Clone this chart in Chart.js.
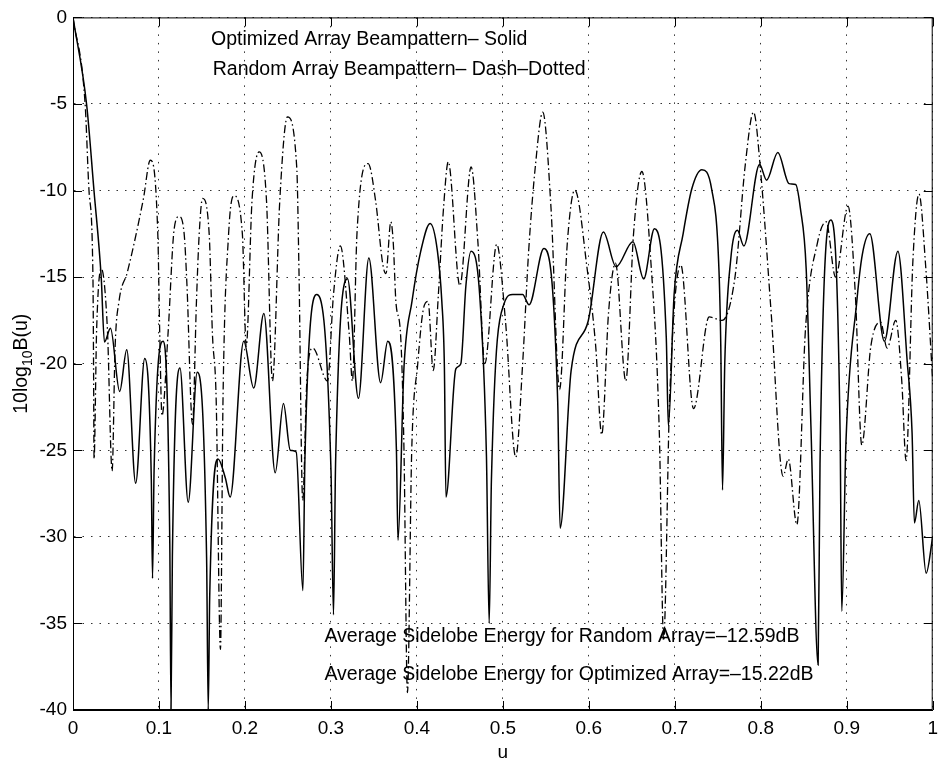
<!DOCTYPE html>
<html>
<head>
<meta charset="utf-8">
<script src="https://cdn.jsdelivr.net/npm/chart.js@4.4.0/dist/chart.umd.min.js"></script>
<style>
html,body{margin:0;padding:0;background:#fff;}
canvas{display:block;}
</style>
</head>
<body>
<canvas id="c" width="945" height="762"></canvas>
<script>
// ---- data ----
const xTickValues = [0,0.1,0.2,0.3,0.4,0.5,0.6,0.7,0.8,0.9,1];
const yTickValues = [0,-5,-10,-15,-20,-25,-30,-35,-40];

// Optimized array beampattern (solid)
const optU = [0,0.0159,0.0244,0.0328,0.0366,0.0436,0.0543,0.0625,0.0729,0.0834,
  0.0911,0.0925,0.0943,0.1047,0.1126,0.114,0.1156,0.1244,0.134,0.1445,
  0.1554,0.1573,0.159,0.1687,0.1772,0.1828,0.1986,0.2102,0.222,0.2352,
  0.2448,0.2527,0.2596,0.2674,0.2698,0.2835,0.3001,0.303,0.3054,0.3193,
  0.332,0.3441,0.3578,0.3661,0.3762,0.378,0.385,0.3943,0.4045,0.4154,
  0.4239,0.429,0.432,0.4338,0.4453,0.4511,0.457,0.463,0.473,0.4809,
  0.4841,0.4867,0.5017,0.5115,0.523,0.5305,0.5477,0.5638,0.5666,0.5794,
  0.5992,0.6169,0.6317,0.6513,0.6638,0.6763,0.6901,0.6925,0.6992,0.7095,
  0.7198,0.7315,0.7428,0.7513,0.7535,0.7555,0.7581,0.765,0.7728,0.7803,
  0.7986,0.8068,0.8198,0.8329,0.8406,0.846,0.8528,0.8584,0.8667,0.8689,
  0.8815,0.8923,0.8942,0.8991,0.9117,0.9181,0.9268,0.9438,0.9595,0.9703,
  0.976,0.9787,0.9838,0.9924,1.0];
const optDb = [0,-5.06,-10,-15,-18.75,-17.95,-21.6,-19.2,-26.9,-19.7,
  -26.7,-32.4,-26.2,-18.7,-30.4,-40,-31.1,-20.25,-28,-20.5,
  -31.2,-40,-33.5,-25.5,-26.6,-27.7,-18.7,-21.4,-17.1,-26.3,
  -22.3,-25,-25.1,-33.1,-25.4,-16,-26.2,-34.5,-25.8,-15.1,
  -22,-13.9,-21.1,-18.7,-25,-30.2,-20.2,-16.4,-13.5,-11.9,
  -13.5,-16.4,-20.2,-27.7,-20.3,-20,-15.5,-13.5,-16,-25.3,
  -35,-26.7,-16.5,-16,-16,-16.6,-13.35,-22.2,-29.5,-20.4,
  -17.55,-12.4,-14.4,-12.95,-15.1,-12.2,-18.5,-23.6,-16,-12.55,
  -9.9,-8.8,-9.9,-14.5,-19,-27.3,-20,-14,-12.3,-13.2,
  -8.5,-9.4,-7.8,-9.6,-9.65,-11,-14.5,-23.7,-37.4,-25.8,
  -11.7,-24.1,-34.3,-24.5,-16.4,-13.7,-12.5,-18.7,-13.5,-19.85,
  -24,-29.2,-27.9,-32.1,-30];

// Random array beampattern (dash-dotted)
const randU = [0,0.0141,0.0186,0.0232,0.0239,0.0245,0.0275,0.0329,0.040,0.0455,
  0.049,0.0535,0.0633,0.0818,0.0899,0.0987,0.1009,0.1035,0.1105,0.1177,
  0.1234,0.1293,0.1325,0.139,0.1436,0.1468,0.1507,0.1584,0.1622,0.1665,
  0.1715,0.1745,0.181,0.187,0.197,0.2015,0.2082,0.2164,0.2251,0.232,
  0.2405,0.2494,0.2603,0.2628,0.2672,0.272,0.279,0.296,0.303,0.311,
  0.3213,0.325,0.3303,0.3433,0.352,0.3605,0.364,0.3697,0.3725,0.3757,
  0.381,0.385,0.389,0.394,0.401,0.407,0.413,0.419,0.425,0.431,
  0.4365,0.45,0.4631,0.471,0.479,0.4929,0.503,0.515,0.523,0.530,
  0.538,0.5464,0.556,0.566,0.575,0.5837,0.598,0.608,0.615,0.623,
  0.631,0.643,0.652,0.6617,0.672,0.682,0.687,0.694,0.707,0.7218,
  0.74,0.755,0.77,0.782,0.7916,0.80,0.812,0.826,0.832,0.842,
  0.852,0.866,0.876,0.887,0.9015,0.91,0.9175,0.928,0.9393,0.947,
  0.957,0.964,0.969,0.977,0.984,0.992,1.0];
const randDb = [0,-5,-10,-15,-20,-25.5,-18,-14.5,-18,-26.2,
  -19,-16.4,-14.7,-10.5,-8.25,-12.6,-18.3,-23,-18.3,-12.2,
  -11.5,-12.5,-15.4,-23.5,-16.4,-12.5,-10.45,-12.5,-18.3,-22,
  -36.5,-22,-12.5,-10.3,-12.5,-19,-10.6,-7.77,-10.6,-21,
  -10.6,-5.75,-8.7,-14.5,-27.9,-21,-19.1,-21,-16,-13.2,
  -18.3,-21,-12.5,-8.44,-10.6,-14.3,-14.8,-11.8,-13,-16.5,
  -18.3,-25,-39,-25,-20,-17,-16.4,-20.4,-16,-11,
  -8.34,-15.5,-8.63,-13,-20,-13.1,-17.5,-25.4,-20,-13.5,
  -8.5,-5.47,-11,-21.5,-13,-9.97,-14.5,-19,-24.1,-17,
  -14.2,-21,-12.5,-8.9,-14,-24,-36,-22,-14.3,-22.6,
  -17.3,-17.5,-15,-8.5,-5.47,-9,-17,-26.5,-25.5,-29.3,
  -18,-13,-11.8,-15,-10.9,-16,-24.7,-19,-17.6,-19.1,
  -17.5,-21,-25.6,-14,-10.2,-14.5,-21];

const seriesNames = ['Optimized Array', 'Random Array'];
const noteTexts = [
  'Optimized Array Beampattern\u2013 Solid',
  'Random Array Beampattern\u2013 Dash\u2013Dotted',
  'Average Sidelobe Energy for Random Array=\u201312.59dB',
  'Average Sidelobe Energy for Optimized Array=\u201315.22dB'
];
const xTitle = 'u';

// ---- chart ----
const FONT = '"Liberation Sans", Arial, Helvetica, sans-serif';
Chart.defaults.font.family = FONT;
Chart.defaults.color = '#000';

const toPts = (us, ds) => us.map((u, i) => ({x: u, y: ds[i]}));

// annotation anchors (data coordinates of text start / baseline)
const noteAnchors = [
  {u: 0.1605, db: -1.62},
  {u: 0.1625, db: -3.35},
  {u: 0.2925, db: -36.1},
  {u: 0.2925, db: -38.28}
];

const framePlugin = {
  id: 'frame',
  afterDraw(chart) {
    const {ctx, chartArea: a, scales: {x, y}} = chart;
    ctx.save();
    ctx.setLineDash([]);
    ctx.strokeStyle = '#000';
    ctx.lineWidth = 1;
    ctx.strokeRect(a.left + 0.5, a.top + 0.5, a.right - a.left - 1, a.bottom - a.top - 1);
    const tl = 9;
    ctx.beginPath();
    x.ticks.forEach(t => {
      const px = Math.round(x.getPixelForValue(t.value)) + 0.5;
      ctx.moveTo(px, a.bottom); ctx.lineTo(px, a.bottom - tl);
      ctx.moveTo(px, a.top); ctx.lineTo(px, a.top + tl);
    });
    y.ticks.forEach(t => {
      const py = Math.round(y.getPixelForValue(t.value)) + 0.5;
      ctx.moveTo(a.left, py); ctx.lineTo(a.left + tl, py);
      ctx.moveTo(a.right, py); ctx.lineTo(a.right - tl, py);
    });
    ctx.stroke();

    // text notes
    ctx.fillStyle = '#000';
    ctx.font = '19.5px ' + FONT;
    ctx.textAlign = 'left';
    ctx.textBaseline = 'alphabetic';
    noteTexts.forEach((t, i) => {
      const n = noteAnchors[i];
      ctx.fillText(t, x.getPixelForValue(n.u), y.getPixelForValue(n.db));
    });

    // y-axis label with subscript
    ctx.translate(27, (a.top + a.bottom) / 2);
    ctx.rotate(-Math.PI / 2);
    const big = '19.5px ' + FONT, small = '14px ' + FONT;
    ctx.font = big;
    const w1 = ctx.measureText('10log').width;
    const w3 = ctx.measureText('B(u)').width;
    ctx.font = small;
    const w2 = ctx.measureText('10').width;
    let sx = -(w1 + w2 + w3) / 2;
    ctx.font = big; ctx.fillText('10log', sx, 0); sx += w1;
    ctx.font = small; ctx.fillText('10', sx, 5); sx += w2;
    ctx.font = big; ctx.fillText('B(u)', sx, 0);
    ctx.restore();
  }
};

const gridOpts = {color: '#333', lineWidth: 1, drawTicks: false};
const borderOpts = {display: true, color: '#000', width: 1, dash: [1.5, 7]};

new Chart(document.getElementById('c'), {
  type: 'line',
  data: {
    datasets: [
      {
        label: seriesNames[0],
        data: toPts(optU, optDb),
        borderColor: '#000',
        borderWidth: 1.5,
        pointRadius: 0,
        fill: false,
        cubicInterpolationMode: 'monotone'
      },
      {
        label: seriesNames[1],
        data: toPts(randU, randDb),
        borderColor: '#000',
        borderWidth: 1.3,
        borderDash: [8, 3, 1.5, 3],
        pointRadius: 0,
        fill: false,
        cubicInterpolationMode: 'monotone'
      }
    ]
  },
  options: {
    responsive: false,
    animation: false,
    devicePixelRatio: 1,
    layout: {padding: {top: 15, right: 2, left: 0, bottom: 0}},
    plugins: {legend: {display: false}, tooltip: {enabled: false}},
    scales: {
      x: {
        type: 'linear', min: 0, max: 1,
        afterBuildTicks: s => { s.ticks = xTickValues.map(v => ({value: v})); },
        afterFit: s => { s.height = 52; },
        ticks: {
          font: {size: 19}, color: '#000', padding: 7, maxRotation: 0, autoSkip: false,
          callback: v => String(Number(v.toFixed(1)))
        },
        grid: gridOpts,
        border: borderOpts,
        title: {display: true, text: xTitle, font: {size: 19}, color: '#000', padding: {top: 0, bottom: -2}}
      },
      y: {
        type: 'linear', min: -40, max: 0,
        afterBuildTicks: s => { s.ticks = yTickValues.map(v => ({value: v})); },
        afterFit: s => { s.width = 73; },
        ticks: {
          font: {size: 19}, color: '#000', padding: 6, autoSkip: false,
          callback: v => String(v)
        },
        grid: gridOpts,
        border: borderOpts
      }
    }
  },
  plugins: [framePlugin]
});
</script>
</body>
</html>
